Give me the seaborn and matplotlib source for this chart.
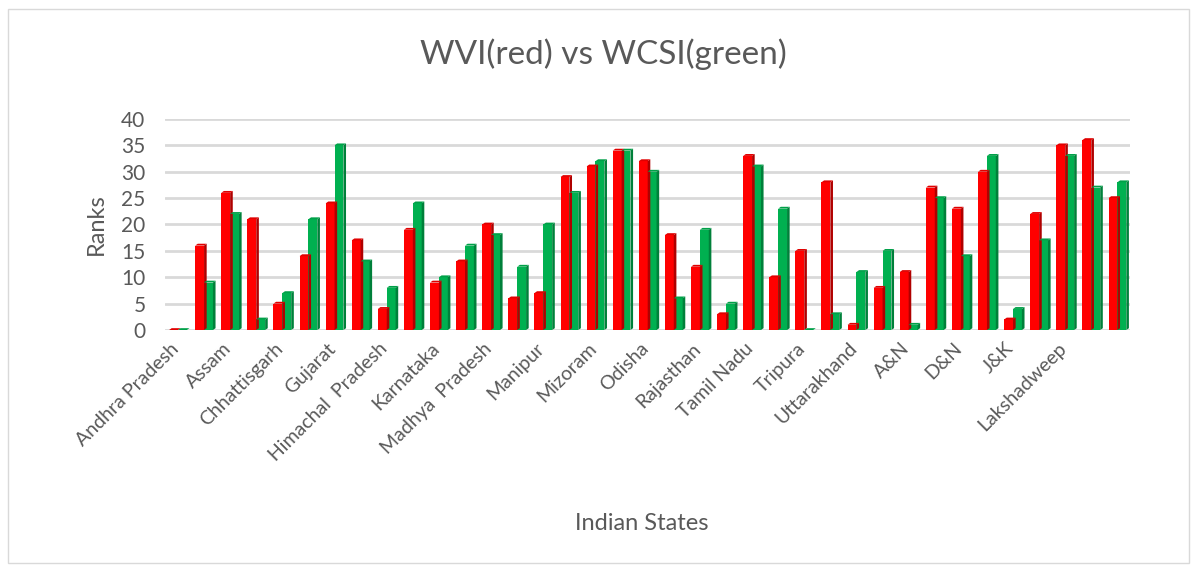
import matplotlib
matplotlib.use("Agg")
import matplotlib.pyplot as plt
from matplotlib.patches import Polygon
from matplotlib.transforms import ScaledTranslation
import seaborn as sns
import pandas as pd
import numpy as np

states = ["Andhra Pradesh", "Arunachal Pradesh", "Assam", "Bihar", "Chhattisgarh", "Goa",
          "Gujarat", "Haryana", "Himachal  Pradesh", "Jharkhand", "Karnataka", "Kerala",
          "Madhya  Pradesh", "Maharashtra", "Manipur", "Meghalaya", "Mizoram", "Nagaland",
          "Odisha", "Punjab", "Rajasthan", "Sikkim", "Tamil Nadu", "Telangana", "Tripura",
          "Uttar Pradesh", "Uttarakhand", "West Bengal", "A&N", "Chandigarh", "D&N",
          "Delhi", "J&K", "Ladakh", "Lakshadweep", "Daman & Diu", "Puducherry"]
shown_labels = [s if i % 2 == 0 and i < 36 else "" for i, s in enumerate(states)]

wvi = [0, 16, 26, 21, 5, 14, 24, 17, 4, 19, 9, 13, 20, 6, 7, 29, 31, 34, 32, 18,
       12, 3, 33, 10, 15, 28, 1, 8, 11, 27, 23, 30, 2, 22, 35, 36, 25]
wcsi = [0, 9, 22, 2, 7, 21, 35, 13, 8, 24, 10, 16, 18, 12, 20, 26, 32, 34, 30, 6,
        19, 5, 31, 23, 0, 3, 11, 15, 1, 25, 14, 33, 4, 17, 33, 27, 28]

df = pd.DataFrame({"State": states * 2,
                   "Rank": wvi + wcsi,
                   "Index": ["WVI"] * len(states) + ["WCSI"] * len(states)})

sns.set_theme(style="white")
plt.rcParams["font.family"] = ["Lato", "DejaVu Sans"]
text_color = "#595959"

fig = plt.figure(figsize=(11.95, 5.69), dpi=100)
ax = fig.add_axes([0.138, 0.42, 0.808, 0.371])

palette = {"WVI": "#FF0000", "WCSI": "#00B050"}
sns.barplot(data=df, x="State", y="Rank", hue="Index", order=states,
            hue_order=["WVI", "WCSI"], palette=palette, width=0.68,
            saturation=1, legend=False, ax=ax, zorder=3, linewidth=0)

side = {"#ff0000": "#B00000", "#00b050": "#00803A"}
top = {"#ff0000": "#E00000", "#00b050": "#00A048"}
dx = 0.1
dy = 0.35
for p in list(ax.patches):
    x0 = p.get_x(); w = p.get_width(); h = p.get_height()
    fc = matplotlib.colors.to_hex(p.get_facecolor())
    x1 = x0 + w
    ax.add_patch(Polygon([(x1, 0), (x1 + dx, dy), (x1 + dx, h + dy), (x1, h)],
                         closed=True, facecolor=side.get(fc, fc), edgecolor="none", zorder=3))
    ax.add_patch(Polygon([(x0, h), (x0 + dx, h + dy), (x1 + dx, h + dy), (x1, h)],
                         closed=True, facecolor=top.get(fc, fc), edgecolor="none", zorder=3))

ax.set_ylim(0, 40)
ax.set_xlim(-0.5, len(states) - 0.5)
ax.set_yticks(range(0, 41, 5))
ax.yaxis.grid(True, color="#D9D9D9", linewidth=2, zorder=0)
ax.xaxis.grid(False)
for s in ax.spines.values():
    s.set_visible(False)
ax.tick_params(axis="both", length=0, colors=text_color)
ax.tick_params(axis="y", labelsize=15, pad=14)
ax.tick_params(axis="x", pad=7)
ax.set_xticks(range(len(states)))
ax.set_xticklabels(shown_labels, rotation=45, ha="right", rotation_mode="anchor",
                   fontsize=14, color=text_color)
offset = ScaledTranslation(-8 / 100, 0, fig.dpi_scale_trans)
for lab in ax.get_xticklabels():
    lab.set_transform(lab.get_transform() + offset)
for lab in ax.get_yticklabels():
    lab.set_color(text_color)

ax.set_ylabel("Ranks", fontsize=17, color=text_color, labelpad=10)
ax.set_xlabel("")
fig.text(0.537, 0.080, "Indian States", ha="center", va="center", fontsize=17, color=text_color)
fig.text(0.505, 0.905, "WVI(red) vs WCSI(green)", ha="center", va="center",
         fontsize=24, color=text_color)

# chart border
border = plt.Rectangle((0.007, 0.01), 0.988, 0.975, transform=fig.transFigure,
                       fill=False, edgecolor="#D9D9D9", linewidth=1)
fig.patches.append(border)

fig.savefig("out.png", dpi=100, facecolor="white")
